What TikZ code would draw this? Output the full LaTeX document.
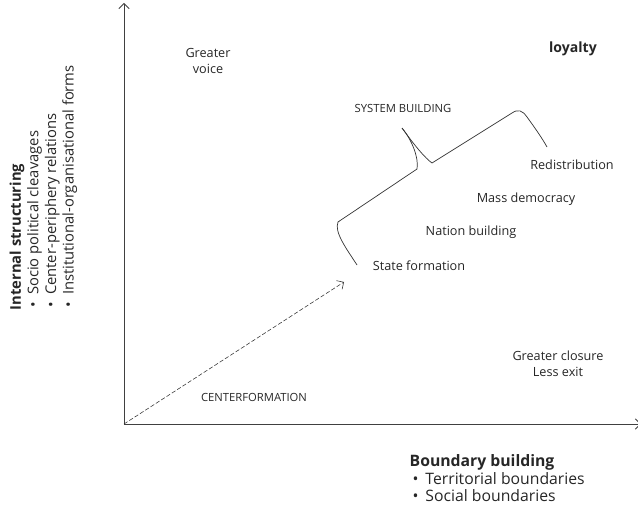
\documentclass[tikz,border=0pt]{standalone}
\usepackage{fontspec}
\setmainfont{Open Sans}
\usetikzlibrary{arrows.meta, positioning}
\tikzset{%
  >={Straight Barb[length=1.3mm,width=2.6mm]},
  % Specifications for style of nodes:
  base/.style = {inner sep=1pt, align=center, text=black!85},
  phase/.style = {base, font=\fontsize{9}{11}\selectfont},
  caps/.style = {base, font=\fontsize{8}{9.5}\selectfont},
  corner/.style = {base, font=\fontsize{9}{11.5}\selectfont},
  heading/.style = {base, align=left, font=\fontsize{10.5}{12.5}\selectfont},
  axis/.style = {->, draw, black!75, line width=0.6pt},
  brace/.style = {draw, black!80, line width=0.5pt},
  path/.style = {->, draw, black!80, dashed, dash pattern=on 3pt off 1.5pt, line width=0.4pt}
}

\begin{document}
\begin{tikzpicture}[x=0.025cm, y=-0.025cm]
  \useasboundingbox (0,0) rectangle (638,505);
  % axes
  \coordinate (origin) at (124,424);
  \coordinate (ytop) at (124,3);
  \coordinate (xend) at (641,424);
  \draw [axis] (origin) -- (ytop);
  \draw [axis] (origin) -- (xend);

  % corner labels
  \node (voice)   [corner] at (208,61)  {Greater\\voice};
  \node (loyalty) [corner, font=\fontsize{10}{12}\selectfont\bfseries] at (573,49) {loyalty};
  \node (closure) [corner] at (558,364) {Greater closure\\Less exit};

  % phases
  \node (system)  [caps]  at (403,108) {SYSTEM BUILDING};
  \node (redist)  [phase] at (572,165) {Redistribution};
  \node (mass)    [phase] at (526,199) {Mass democracy};
  \node (nation)  [phase] at (471,232) {Nation building};
  \node (state)   [phase] at (419,266) {State formation};
  \node (center)  [caps]  at (254,397) {CENTERFORMATION};

  % axis titles
  \node (boundary) [heading, font=\fontsize{11.2}{12.5}\selectfont, anchor=north west] at (408,453)
    {\textbf{Boundary building}\\
     \hspace*{2pt}\textbullet\hspace{5pt}Territorial boundaries\\
     \hspace*{2pt}\textbullet\hspace{5pt}Social boundaries};
  \node (internal) [heading, rotate=90, anchor=north west] at (8,312)
    {\textbf{Internal structuring}\\
     \hspace*{2pt}\textbullet\hspace{5pt}Socio political cleavages\\
     \hspace*{2pt}\textbullet\hspace{5pt}Center-periphery relations\\
     \hspace*{2pt}\textbullet\hspace{5pt}Institutional-organisational forms};

  % development path and braces
  \coordinate (c1) at (344,282);
  \draw [path] (origin) -- (c1);

  \coordinate (tip) at (402,128);
  \draw [brace] (357,265) .. controls (346,248) and (334,232) .. (338,222)
     -- (417,169) .. controls (419,158) and (412,140) .. (tip);
  \draw [brace] (tip) .. controls (415,146) and (425,158) .. (432,163)
     -- (512,113) .. controls (518,109) and (522,110) .. (527,117)
     .. controls (535,128) and (542,138) .. (547,147);
\end{tikzpicture}
\end{document}
